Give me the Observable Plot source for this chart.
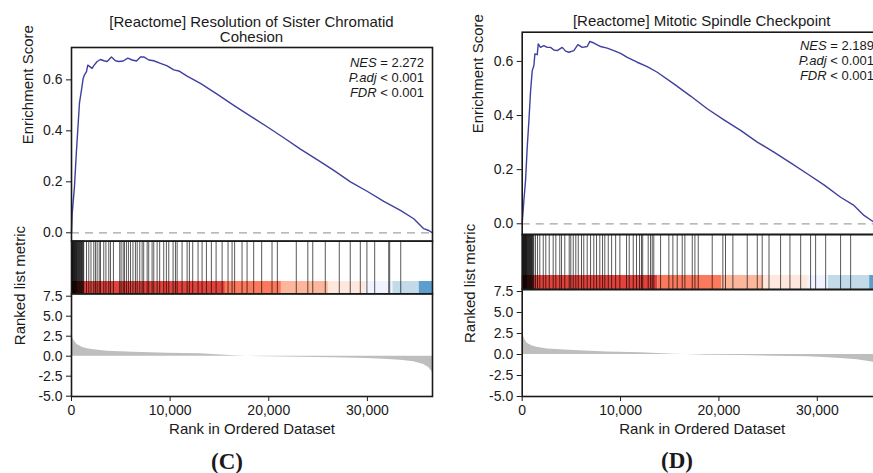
<!DOCTYPE html>
<html><head><meta charset="utf-8">
<script src="https://cdn.jsdelivr.net/npm/d3@7"></script>
<script src="https://cdn.jsdelivr.net/npm/@observablehq/plot@0.6"></script>
<style>
body{margin:0;background:#fff;}
#root{position:relative;width:873px;height:473px;overflow:hidden;background:#fff;font-family:"Liberation Sans",Arial,sans-serif;color:#1a1a1a;}
.panel{position:absolute;top:0;height:473px;}
.panel svg{position:absolute;left:0;top:0;}
.t{position:absolute;white-space:nowrap;}
</style></head><body><div id="root"></div>
<script>
// ---------- data ----------
const nGenes = 36600;
const esTicks = [0, 0.2, 0.4, 0.6];
const metricTicks = [-5, -2.5, 0, 2.5, 5, 7.5];
const rankTicks = [0, 10000, 20000, 30000];

const titleC = ["[Reactome] Resolution of Sister Chromatid", "Cohesion"];
const titleD = ["[Reactome] Mitotic Spindle Checkpoint"];
const statsC = {nes: "2.272", padj: "0.001", fdr: "0.001"};
const statsD = {nes: "2.189", padj: "0.001", fdr: "0.001"};
const panelLabels = ["(C)", "(D)"];

const esRankC = [0,70,300,500,680,810,1010,1180,1320,1520,1650,1860,2090,2260,2600,2940,3280,3610,4050,4460,4800,5240,5710,6150,6590,6990,7330,7840,8340,9020,9700,10370,10880,11720,13070,14760,16450,18140,19830,21520,23210,24900,26590,28280,29970,31660,33350,34700,35710,36220,36600];
const esValC = [0,0.075,0.18,0.32,0.43,0.51,0.56,0.605,0.62,0.632,0.658,0.652,0.645,0.656,0.672,0.68,0.675,0.672,0.69,0.675,0.672,0.674,0.685,0.678,0.674,0.69,0.69,0.678,0.675,0.665,0.655,0.639,0.635,0.615,0.586,0.544,0.50,0.458,0.416,0.373,0.328,0.287,0.245,0.20,0.163,0.123,0.088,0.055,0.016,0.009,0];

const esRankD = [0,170,340,510,680,850,1020,1190,1290,1530,1630,1860,2200,2540,2880,3220,3560,4070,4410,4750,5250,5660,6100,6610,6880,7290,7970,8640,9320,10000,10680,11690,12710,13730,15420,17120,18810,20510,22200,23900,25590,27290,28980,30680,32370,33730,34750,35760,36600];
const esValD = [0,0.086,0.16,0.283,0.38,0.49,0.566,0.585,0.628,0.625,0.665,0.652,0.658,0.652,0.652,0.642,0.64,0.652,0.638,0.634,0.64,0.662,0.652,0.655,0.674,0.668,0.655,0.649,0.64,0.63,0.615,0.597,0.581,0.56,0.517,0.472,0.425,0.384,0.345,0.302,0.265,0.225,0.185,0.144,0.098,0.068,0.031,0.006,0];

const hitsC = [20,45,80,110,150,190,230,270,310,360,400,450,500,540,590,640,690,740,800,850,900,960,1010,1070,1130,1190,1240,1520,1750,1975,2260,2430,2600,2810,2940,3270,3490,3780,3950,4250,4890,5030,5240,5370,5570,5770,5980,6230,6480,6660,6920,7160,7320,7670,7830,8170,8340,8680,8940,9350,9620,9860,10300,10540,10710,11210,11720,11950,12290,12830,13240,13680,14180,14660,15270,15870,16280,16540,17290,17800,18470,19280,20330,20870,22790,23960,24460,25730,27150,28260,29280,29950,30740,32160,32260,33380];
const hitsD = [15,40,70,100,140,180,220,260,300,340,380,420,460,500,550,600,650,700,750,800,850,900,950,1000,1060,1120,1180,1350,1560,1790,2140,2400,2750,3150,3420,3820,4000,4330,4780,4940,5190,5450,5700,6030,6260,6610,6950,7280,7560,7890,8170,8400,8750,9090,9500,9930,10610,10880,11290,11620,11930,12130,12250,12810,13050,13220,13380,14070,14910,15320,15760,16270,16540,17290,17560,17900,19320,20400,20670,21420,22880,23900,24400,25090,26270,27220,28310,29320,29830,30850,32370,33390];

const mRankC = [0,70,240,570,1080,1590,2260,3610,6320,9700,13070,14760,16450,17800,19830,23210,26590,29970,31660,33350,34700,35710,36220,36600];
const mValC = [2.8,2.5,1.96,1.46,1.12,0.92,0.8,0.62,0.5,0.37,0.29,0.17,0.05,0,-0.08,-0.12,-0.2,-0.3,-0.37,-0.5,-0.7,-1.05,-1.4,-2.0];
const mRankD = [0,70,240,510,1020,1530,2540,5250,8640,12030,13730,15420,16610,18810,22200,25590,28980,30680,32370,34070,35090,35760,36200,36600];
const mValD = [2.6,2.44,1.85,1.34,1.02,0.87,0.67,0.47,0.31,0.2,0.12,0.04,0,-0.08,-0.12,-0.2,-0.28,-0.35,-0.47,-0.63,-0.79,-0.94,-1.2,-1.6];

const segEndC = [600,15600,21280,26040,29860,32590,35260,36600];
const segEndD = [540,13790,20280,24580,29090,31130,35330,36600];
const segColors = ["#A50F15","#DE2D26","#FB6A4A","#FCAE91","#FEE5D9","#EFF3FF","#BDD7E7","#4A93C9"];

// ---------- helpers ----------
const FONT = '"Liberation Sans", Arial, sans-serif';
const zip = (xs, ys, kx, ky) => xs.map((x, i) => ({[kx]: x, [ky]: ys[i]}));
const segs = ends => ends.map((e, i) => ({start: i ? ends[i - 1] : 0, end: e, color: segColors[i]}));
const fmt1 = d => d.toFixed(1);
const fmtK = d3.format(",");

const root = document.getElementById("root");

function gsea(cfg) {
  const div = document.createElement("div");
  div.className = "panel";
  div.style.left = cfg.ox + "px";
  div.style.width = cfg.pw + "px";
  root.appendChild(div);
  const ml = cfg.fl - cfg.ox, mr = cfg.pw - (cfg.fr - cfg.ox);
  const base = {
    width: cfg.pw, height: 473, marginLeft: ml, marginRight: mr,
    style: {background: "transparent", overflow: "visible", fontFamily: FONT, fontSize: "14px", color: "#1a1a1a"}
  };
  const frame = Plot.frame({stroke: "#1a1a1a", strokeWidth: 1.6});

  const es = Plot.plot({
    ...base, marginTop: cfg.esTop, marginBottom: 473 - cfg.esBot,
    x: {domain: [0, nGenes], axis: null, label: null},
    y: {domain: cfg.esDomain, axis: null, label: null},
    marks: [
      Plot.ruleY([0], {stroke: "#a3a3a3", strokeWidth: 1.3, strokeDasharray: "8,6"}),
      Plot.line(cfg.es, {x: "rank", y: "es", stroke: "#3f3f9e", strokeWidth: 1.4}),
      Plot.axisY({ticks: esTicks, tickFormat: fmt1, tickSize: 5, tickPadding: 4, fontSize: 14, label: null}),
      Plot.text(["Enrichment Score"], {text: d => d, frameAnchor: "left", rotate: -90, dx: cfg.esLabelDx, fontSize: 15}),
      frame
    ]
  });

  const bar = Plot.plot({
    ...base, marginTop: cfg.cbTop, marginBottom: 473 - cfg.cbBot,
    x: {domain: [0, nGenes], axis: null, label: null},
    marks: [
      Plot.rect(cfg.segs, {x1: "start", x2: "end", fill: "color", fillOpacity: 0.9})
    ]
  });

  const hits = Plot.plot({
    ...base, marginTop: cfg.esBot, marginBottom: 473 - cfg.cbBot,
    x: {domain: [0, nGenes], axis: null, label: null},
    marks: [
      Plot.ruleX(cfg.hits, {stroke: "#000", strokeOpacity: 0.65, strokeWidth: 1}),
      frame
    ]
  });

  const metric = Plot.plot({
    ...base, marginTop: cfg.mTop, marginBottom: 473 - cfg.mBot,
    x: {domain: [0, nGenes], axis: null, label: null},
    y: {domain: cfg.mDomain, axis: null, label: null},
    marks: [
      Plot.areaY(cfg.metric, {x: "rank", y: "m", fill: "#bebebe"}),
      Plot.axisX({ticks: rankTicks, tickFormat: fmtK, tickSize: 5, tickPadding: 4, fontSize: 14, label: null}),
      Plot.axisY({ticks: metricTicks, tickFormat: fmt1, tickSize: 5, tickPadding: 4, fontSize: 14, label: null}),
      Plot.text(["Ranked list metric"], {text: d => d, frameAnchor: "left", rotate: -90, dx: cfg.mLabelDx, fontSize: 15}),
      Plot.text(["Rank in Ordered Dataset"], {text: d => d, frameAnchor: "bottom", dy: cfg.xLabelDy, fontSize: 15}),
      frame
    ]
  });

  div.appendChild(bar);
  div.appendChild(es);
  div.appendChild(hits);
  div.appendChild(metric);

  // title
  const t = document.createElement("div");
  t.className = "t";
  t.style.cssText = `left:${(cfg.fl + cfg.fr) / 2 - 250}px;width:500px;top:${cfg.titleTop}px;text-align:center;font-size:15px;line-height:15.3px;white-space:normal;`;
  t.innerHTML = cfg.title.join("<br>");
  root.appendChild(t);
  // stats
  const s = document.createElement("div");
  s.className = "t";
  s.style.cssText = `left:${cfg.statsRight - 200}px;width:200px;top:${cfg.statsTop}px;text-align:right;font-size:13px;line-height:15.3px;`;
  s.innerHTML = `<i>NES</i> = ${cfg.stats.nes}<br><i>P.adj</i> &lt; ${cfg.stats.padj}<br><i>FDR</i> &lt; ${cfg.stats.fdr}`;
  root.appendChild(s);
  // panel label
  const l = document.createElement("div");
  l.className = "t";
  l.style.cssText = `left:${cfg.labelX - 50}px;width:100px;top:${cfg.labelTop}px;text-align:center;font-family:"Liberation Serif","Times New Roman",serif;font-weight:bold;font-size:23px;line-height:23px;`;
  l.textContent = cfg.label;
  root.appendChild(l);
}

gsea({
  ox: 0, pw: 440, fl: 71, fr: 432,
  esTop: 47, esBot: 240.7, esDomain: [-0.033, 0.727],
  cbTop: 281, cbBot: 293.3,
  mTop: 293.3, mBot: 396, mDomain: [-5.04, 7.8],
  esLabelDx: -43.5, mLabelDx: -51, xLabelDy: 37,
  es: zip(esRankC, esValC, "rank", "es"),
  hits: hitsC, segs: segs(segEndC),
  metric: zip(mRankC, mValC, "rank", "m"),
  title: titleC, titleTop: 13.9,
  stats: statsC, statsTop: 54.5, statsRight: 424,
  label: panelLabels[0], labelX: 227, labelTop: 449.7
});

gsea({
  ox: 440, pw: 450, fl: 521.7, fr: 881.7,
  esTop: 31.7, esBot: 234, esDomain: [-0.0396, 0.708],
  cbTop: 275, cbBot: 289,
  mTop: 289, mBot: 396, mDomain: [-5.0, 7.74],
  esLabelDx: -44, mLabelDx: -51.7, xLabelDy: 37.5,
  es: zip(esRankD, esValD, "rank", "es"),
  hits: hitsD, segs: segs(segEndD),
  metric: zip(mRankD, mValD, "rank", "m"),
  title: titleD, titleTop: 13.2,
  stats: statsD, statsTop: 37.8, statsRight: 874,
  label: panelLabels[1], labelX: 677, labelTop: 448.7
});
</script></body></html>
